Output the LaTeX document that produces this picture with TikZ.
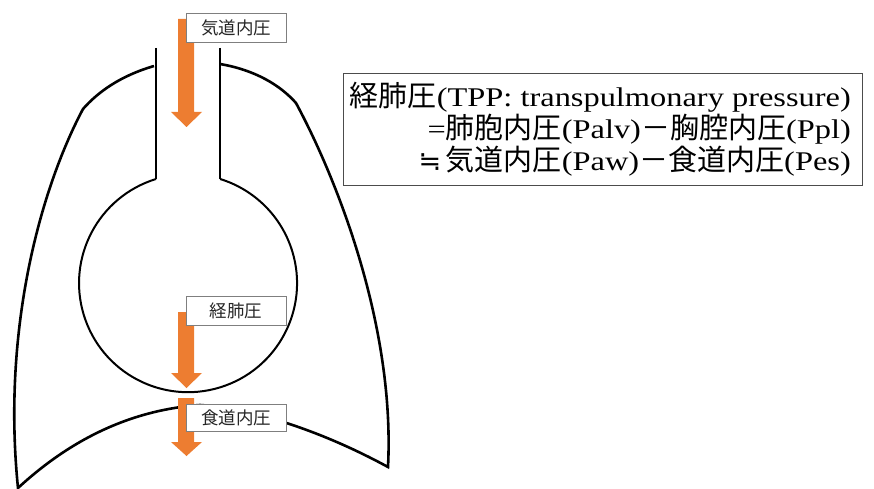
\documentclass[tikz,border=0pt]{standalone}
\usepackage{fontspec}
\setmainfont{Liberation Serif}[FakeStretch=1.2]
\newfontfamily\cjk{Noto Sans CJK JP}
\newfontfamily\symb{DejaVu Sans}
\definecolor{arroworange}{HTML}{ED7D31}
\definecolor{tagborder}{HTML}{7F7F7F}
\newcommand{\pressurearrow}[3]{%
  \fill[arroworange] (178,-#1) -- (194,-#1) -- (194,-#2) -- (202,-#2)
    -- (186.5,-#3) -- (171,-#2) -- (178,-#2) -- cycle;}
\newcommand{\jp}[1]{{\cjk\fontsize{29}{32}\selectfont #1}}
\begin{document}
\begin{tikzpicture}[x=1pt,y=1pt,
  lung/.style={line width=2.6pt, line join=miter},
  tube/.style={line width=2.8pt},
  alveolus/.style={line width=2pt},
  tag/.style={draw=tagborder, line width=0.9pt, fill=white,
    minimum width=100pt, minimum height=29pt, inner sep=0pt,
    font=\cjk\fontsize{17.5}{20}\selectfont, text=black!85},
  formulabox/.style={draw=black!70, line width=0.9pt}]
\useasboundingbox (0,0) rectangle (874,-489);

% outer contour of the thorax with the diaphragm
\draw[lung] (154,-66) .. controls (120,-76) and (98,-92) .. (83,-109)
  .. controls (40,-190) and (2,-330) .. (18,-488)
  .. controls (70,-440) and (130,-410) .. (200,-405)
  .. controls (250,-408) and (320,-430) .. (388,-467)
  .. controls (395,-330) and (340,-185) .. (296,-103)
  .. controls (280,-85) and (255,-70) .. (220,-64);

% airway and alveolus
\draw[tube] (156,-48) -- (156,-179);
\draw[tube] (220,-48) -- (220,-179);
\draw[alveolus] (156,-179) arc[start angle=107.1, end angle=432.9, radius=109pt];

% pressure arrows
\pressurearrow{19}{112}{127}
\pressurearrow{312}{373}{388}
\pressurearrow{398}{442}{456}

% labels
\node[tag] (paw) at (236,-27.5) {気道内圧};
\node[tag] (tpp) at (236,-310.5) {経肺圧};
\node[tag, minimum height=27pt] (pes) at (236,-417.5) {食道内圧};

% definition of the transpulmonary pressure
\draw[formulabox] (343,-73) rectangle (862,-185);
\node[align=right, anchor=north east, inner sep=0pt,
  font=\fontsize{27}{32}\selectfont] (formula) at (851,-82)
  {\jp{経肺圧}(TPP: transpulmonary pressure)\\
   =\jp{肺胞内圧}(Palv)\jp{－胸腔内圧}(Ppl)\\
   {\symb ≒}\,\jp{気道内圧}(Paw)\jp{－食道内圧}(Pes)};
\end{tikzpicture}
\end{document}
